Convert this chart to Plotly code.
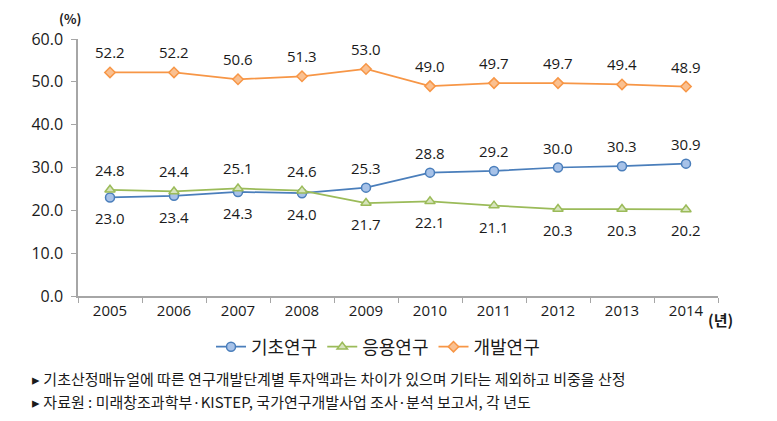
import plotly.graph_objects as go

years = ["2005", "2006", "2007", "2008", "2009", "2010", "2011", "2012", "2013", "2014"]
basic = [23.0, 23.4, 24.3, 24.0, 25.3, 28.8, 29.2, 30.0, 30.3, 30.9]
applied = [24.8, 24.4, 25.1, 24.6, 21.7, 22.1, 21.1, 20.3, 20.3, 20.2]
develop = [52.2, 52.2, 50.6, 51.3, 53.0, 49.0, 49.7, 49.7, 49.4, 48.9]
names = ["기초연구", "응용연구", "개발연구"]
basic_label_up = [False, False, False, False, True, True, True, True, True, True]
applied_label_up = [True, True, True, True, False, False, False, False, False, False]
develop_label_up = [True] * 10
y_ticks = [0, 10, 20, 30, 40, 50, 60]
notes = [
    "▸ 기초산정매뉴얼에 따른 연구개발단계별 투자액과는 차이가 있으며 기타는 제외하고 비중을 산정",
    "▸ 자료원 : 미래창조과학부·KISTEP, 국가연구개발사업 조사·분석 보고서, 각 년도",
]

NUM_FONT = "Open Sans, Noto Sans CJK KR, sans-serif"
KR_FONT = "Noto Sans CJK KR, sans-serif"

styles = [
    dict(line="#4A7EBB", fill="#A7C2E8", symbol="circle", size=9),
    dict(line="#9BBB59", fill="#D7E4BD", symbol="triangle-up", size=9),
    dict(line="#F79646", fill="#FAC090", symbol="diamond", size=8),
]

# page body has an 8px margin; compensate so the plot sits where the reference does
OFF = 8
W, H = 777, 421
L, R, T, B = 78 - OFF, 59 + OFF, 39 - OFF, 125 + OFF
pw, ph = W - L - R, H - T - B
def px_x(x):
    return (x - OFF - L) / pw
def px_y(y):
    return (H - B - (y - OFF)) / ph

fig = go.Figure()
annotations = []
for vals, ups, name, st in zip([basic, applied, develop],
                               [basic_label_up, applied_label_up, develop_label_up],
                               names, styles):
    fig.add_trace(go.Scatter(
        x=years, y=vals, name=name, mode="lines+markers",
        line=dict(color=st["line"], width=1.75),
        marker=dict(symbol=st["symbol"], size=st["size"], color=st["fill"],
                    line=dict(color=st["line"], width=1.5)),
    ))
    for i, (yv, up) in enumerate(zip(vals, ups)):
        annotations.append(dict(
            x=i, y=yv, xref="x", yref="y", text=f"{yv:.1f}", showarrow=False,
            yshift=20 if up else -21, font=dict(family=NUM_FONT, size=15, color="#1a1a1a"),
        ))

annotations.append(dict(x=px_x(57), y=px_y(18), xref="paper", yref="paper", text="<b>(%)</b>",
                        showarrow=False, xanchor="left", yanchor="middle",
                        font=dict(family=KR_FONT, size=13, color="#1a1a1a")))
annotations.append(dict(x=px_x(706), y=px_y(319), xref="paper", yref="paper", text="<b>(년)</b>",
                        showarrow=False, xanchor="left", yanchor="middle",
                        font=dict(family=KR_FONT, size=15, color="#1a1a1a")))
for i, t in enumerate(notes):
    annotations.append(dict(x=px_x(30), y=px_y(378 + 24 * i), xref="paper", yref="paper", text=t,
                            showarrow=False, xanchor="left", yanchor="middle",
                            font=dict(family=KR_FONT, size=15, color="#1a1a1a")))

fig.update_layout(
    width=W, height=H,
    margin=dict(l=L, r=R, t=T, b=B),
    paper_bgcolor="white", plot_bgcolor="white",
    showlegend=True,
    legend=dict(orientation="h", x=px_x(378), y=px_y(347), xanchor="center", yanchor="middle",
                font=dict(family=KR_FONT, size=18, color="#1a1a1a"),
                tracegroupgap=0, bgcolor="rgba(0,0,0,0)"),
    annotations=annotations,
    font=dict(family=NUM_FONT, color="#1a1a1a"),
)
fig.update_xaxes(
    type="category", range=[-0.5, 9.5], showline=True, linecolor="#A6A6A6", linewidth=1.5,
    ticks="outside", tickson="boundaries", ticklen=5, tickcolor="#A6A6A6",
    showgrid=False, zeroline=False, tickfont=dict(family=NUM_FONT, size=15, color="#1a1a1a"),
)
fig.update_yaxes(
    range=[0, 60], tickvals=y_ticks, ticktext=[f"{v:.1f}" for v in y_ticks],
    showline=True, linecolor="#A6A6A6", linewidth=1.5, ticks="outside", ticklen=5,
    tickcolor="#A6A6A6", showgrid=False, zeroline=False, ticklabelstandoff=5,
    tickfont=dict(family=NUM_FONT, size=16, color="#1a1a1a"),
)
fig.write_html("out.html")
